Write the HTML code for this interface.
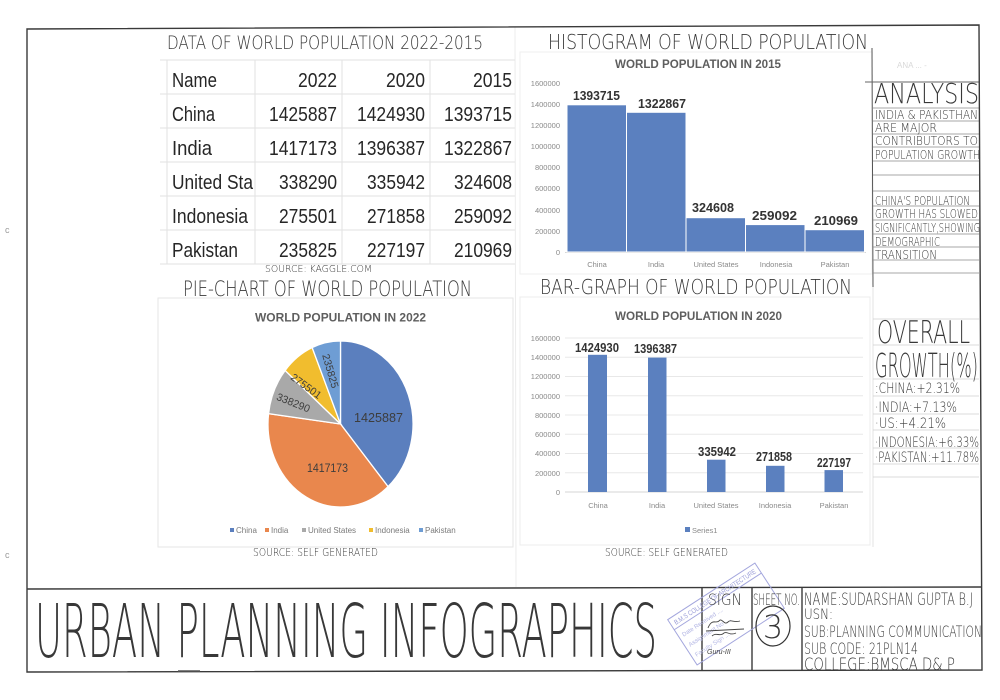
<!DOCTYPE html>
<html>
<head>
<meta charset="utf-8">
<style>
  html,body{margin:0;padding:0;background:#fff;}
  svg{display:block;}
  .hw{font-family:"DejaVu Sans","Liberation Sans",sans-serif;font-weight:200;fill:#383838;}
  .cal{font-family:"Liberation Sans",sans-serif;}
  .ax{font-family:"Liberation Sans",sans-serif;font-size:7.5px;fill:#8a8a8a;}
  .ttl{font-family:"Liberation Sans",sans-serif;font-weight:bold;font-size:12px;fill:#5e5e5e;}
  .dl{font-family:"Liberation Sans",sans-serif;font-weight:bold;font-size:13px;fill:#333;}
  .tb{font-family:"Liberation Sans",sans-serif;font-size:20px;fill:#262626;}
</style>
</head>
<body>
<svg width="1000" height="700" viewBox="0 0 1000 700" xmlns="http://www.w3.org/2000/svg">
  <rect width="1000" height="700" fill="#ffffff"/>

  <!-- margin marks -->
  <text x="5" y="233" class="cal" font-size="9" fill="#999">c</text>
  <text x="5" y="558" class="cal" font-size="9" fill="#999">c</text>

  <!-- page fold -->
  <line x1="515" y1="27" x2="516" y2="587" stroke="#ececec" stroke-width="1"/>

  <!-- ===== TABLE ===== -->
  <g stroke="#e2e2e2" stroke-width="1">
    <line x1="160" y1="60" x2="515" y2="60"/>
    <line x1="160" y1="94" x2="515" y2="94"/>
    <line x1="160" y1="128" x2="515" y2="128"/>
    <line x1="160" y1="162" x2="515" y2="162"/>
    <line x1="160" y1="196" x2="515" y2="196"/>
    <line x1="160" y1="230" x2="515" y2="230"/>
    <line x1="160" y1="264" x2="515" y2="264"/>
    <line x1="167" y1="60" x2="167" y2="264"/>
    <line x1="255" y1="60" x2="255" y2="264"/>
    <line x1="342" y1="60" x2="342" y2="264"/>
    <line x1="430" y1="60" x2="430" y2="264"/>
  </g>
  <text class="hw" x="167" y="49" font-size="19" textLength="316" lengthAdjust="spacingAndGlyphs">DATA OF WORLD POPULATION 2022-2015</text>

  <g class="tb">
    <text x="172" y="87" textLength="45" lengthAdjust="spacingAndGlyphs">Name</text>
    <text x="298" y="87" textLength="39" lengthAdjust="spacingAndGlyphs">2022</text>
    <text x="386" y="87" textLength="39" lengthAdjust="spacingAndGlyphs">2020</text>
    <text x="473" y="87" textLength="39" lengthAdjust="spacingAndGlyphs">2015</text>

    <text x="172" y="121" textLength="43" lengthAdjust="spacingAndGlyphs">China</text>
    <text x="269" y="121" textLength="68" lengthAdjust="spacingAndGlyphs">1425887</text>
    <text x="357" y="121" textLength="68" lengthAdjust="spacingAndGlyphs">1424930</text>
    <text x="444" y="121" textLength="68" lengthAdjust="spacingAndGlyphs">1393715</text>

    <text x="172" y="155" textLength="40" lengthAdjust="spacingAndGlyphs">India</text>
    <text x="269" y="155" textLength="68" lengthAdjust="spacingAndGlyphs">1417173</text>
    <text x="357" y="155" textLength="68" lengthAdjust="spacingAndGlyphs">1396387</text>
    <text x="444" y="155" textLength="68" lengthAdjust="spacingAndGlyphs">1322867</text>

    <text x="172" y="189" textLength="81" lengthAdjust="spacingAndGlyphs">United Sta</text>
    <text x="279" y="189" textLength="58" lengthAdjust="spacingAndGlyphs">338290</text>
    <text x="367" y="189" textLength="58" lengthAdjust="spacingAndGlyphs">335942</text>
    <text x="454" y="189" textLength="58" lengthAdjust="spacingAndGlyphs">324608</text>

    <text x="172" y="223" textLength="76" lengthAdjust="spacingAndGlyphs">Indonesia</text>
    <text x="279" y="223" textLength="58" lengthAdjust="spacingAndGlyphs">275501</text>
    <text x="367" y="223" textLength="58" lengthAdjust="spacingAndGlyphs">271858</text>
    <text x="454" y="223" textLength="58" lengthAdjust="spacingAndGlyphs">259092</text>

    <text x="172" y="257" textLength="66" lengthAdjust="spacingAndGlyphs">Pakistan</text>
    <text x="279" y="257" textLength="58" lengthAdjust="spacingAndGlyphs">235825</text>
    <text x="367" y="257" textLength="58" lengthAdjust="spacingAndGlyphs">227197</text>
    <text x="454" y="257" textLength="58" lengthAdjust="spacingAndGlyphs">210969</text>
  </g>
  <text class="hw" x="265" y="272" font-size="10" textLength="107" lengthAdjust="spacingAndGlyphs">SOURCE: KAGGLE.COM</text>

  <!-- ===== HISTOGRAM ===== -->
  <text class="hw" x="548" y="49" font-size="20" textLength="320" lengthAdjust="spacingAndGlyphs">HISTOGRAM OF WORLD POPULATION</text>
  <rect x="520" y="52" width="352" height="222" fill="none" stroke="#efefef"/>
  <text class="ttl" x="615" y="68" textLength="166" lengthAdjust="spacingAndGlyphs">WORLD POPULATION IN 2015</text>
  <g class="ax" text-anchor="end">
    <text x="560" y="86">1600000</text>
    <text x="560" y="107">1400000</text>
    <text x="560" y="128">1200000</text>
    <text x="560" y="149">1000000</text>
    <text x="560" y="170">800000</text>
    <text x="560" y="191">600000</text>
    <text x="560" y="213">400000</text>
    <text x="560" y="234">200000</text>
    <text x="560" y="255">0</text>
  </g>
  <line x1="565" y1="252.5" x2="866" y2="252.5" stroke="#d6d6d6"/>
  <g fill="#5b80bf" stroke="#ffffff" stroke-width="1">
    <rect x="567" y="104.8" width="59.5" height="147.2"/>
    <rect x="626.5" y="112.3" width="59.5" height="139.7"/>
    <rect x="686" y="217.7" width="59.5" height="34.3"/>
    <rect x="745.5" y="224.6" width="59.5" height="27.4"/>
    <rect x="805" y="229.7" width="59.5" height="22.3"/>
  </g>
  <g class="dl">
    <text x="573" y="100" textLength="47" lengthAdjust="spacingAndGlyphs">1393715</text>
    <text x="638" y="108" textLength="48" lengthAdjust="spacingAndGlyphs">1322867</text>
    <text x="692" y="212" textLength="42" lengthAdjust="spacingAndGlyphs">324608</text>
    <text x="752" y="220" textLength="45" lengthAdjust="spacingAndGlyphs">259092</text>
    <text x="814" y="225" textLength="44" lengthAdjust="spacingAndGlyphs">210969</text>
  </g>
  <g class="ax" text-anchor="middle">
    <text x="597" y="267">China</text>
    <text x="656" y="267">India</text>
    <text x="716" y="267">United States</text>
    <text x="776" y="267">Indonesia</text>
    <text x="835" y="267">Pakistan</text>
  </g>

  <!-- ===== ANALYSIS PANEL ===== -->
  <line x1="872" y1="48" x2="873" y2="287" stroke="#555" stroke-width="1"/>
  <line x1="873" y1="287" x2="873" y2="547" stroke="#e3e3e3" stroke-width="1"/>
  <line x1="865" y1="82" x2="979" y2="82" stroke="#666" stroke-width="1"/>
  <text x="897" y="68" class="cal" font-size="8" fill="#d8d8d8">ANA ... -</text>
  <text class="hw" x="874" y="103" font-size="28" textLength="105" lengthAdjust="spacingAndGlyphs">ANALYSIS</text>
  <g stroke="#8a8a8a" stroke-width="0.8">
    <line x1="873" y1="108" x2="979" y2="108"/>
    <line x1="873" y1="121" x2="979" y2="121"/>
    <line x1="873" y1="134" x2="979" y2="134"/>
    <line x1="873" y1="147" x2="979" y2="147"/>
    <line x1="873" y1="161" x2="979" y2="161"/>
    <line x1="873" y1="175" x2="979" y2="175"/>
    <line x1="873" y1="191" x2="979" y2="191"/>
    <line x1="873" y1="206" x2="979" y2="206"/>
    <line x1="873" y1="220" x2="979" y2="220"/>
    <line x1="873" y1="234" x2="979" y2="234"/>
    <line x1="873" y1="247" x2="979" y2="247"/>
    <line x1="873" y1="260" x2="979" y2="260"/>
    <line x1="873" y1="273" x2="979" y2="273"/>
  </g>
  <g class="hw" font-size="12.5">
    <text x="875" y="119" textLength="103" lengthAdjust="spacingAndGlyphs">INDIA &amp; PAKISTHAN</text>
    <text x="875" y="132" textLength="62" lengthAdjust="spacingAndGlyphs">ARE MAJOR</text>
    <text x="875" y="145" textLength="103" lengthAdjust="spacingAndGlyphs">CONTRIBUTORS TO</text>
    <text x="875" y="159" textLength="105" lengthAdjust="spacingAndGlyphs">POPULATION GROWTH</text>
    <text x="875" y="205" textLength="95" lengthAdjust="spacingAndGlyphs">CHINA'S POPULATION</text>
    <text x="875" y="218" textLength="103" lengthAdjust="spacingAndGlyphs">GROWTH HAS SLOWED</text>
    <text x="875" y="232" textLength="105" lengthAdjust="spacingAndGlyphs">SIGNIFICANTLY,SHOWING</text>
    <text x="875" y="246" textLength="65" lengthAdjust="spacingAndGlyphs">DEMOGRAPHIC</text>
    <text x="875" y="259" textLength="62" lengthAdjust="spacingAndGlyphs">TRANSITION</text>
  </g>

  <!-- overall growth -->
  <g stroke="#cfcfcf" stroke-width="0.8">
    <line x1="873" y1="319" x2="979" y2="319"/>
    <line x1="873" y1="345" x2="979" y2="345"/>
    <line x1="873" y1="379" x2="979" y2="379"/>
    <line x1="873" y1="396" x2="979" y2="396"/>
    <line x1="873" y1="414" x2="979" y2="414"/>
    <line x1="873" y1="430" x2="979" y2="430"/>
    <line x1="873" y1="448" x2="979" y2="448"/>
    <line x1="873" y1="464" x2="979" y2="464"/>
    <line x1="873" y1="477" x2="979" y2="477"/>
  </g>
  <text class="hw" x="877" y="343" font-size="31" textLength="93" lengthAdjust="spacingAndGlyphs">OVERALL</text>
  <text class="hw" x="875" y="377" font-size="33" textLength="103" lengthAdjust="spacingAndGlyphs">GROWTH(%)</text>
  <g class="hw" font-size="14">
    <text x="875" y="393" textLength="85" lengthAdjust="spacingAndGlyphs">:CHINA:+2.31%</text>
    <text x="875" y="412" textLength="82" lengthAdjust="spacingAndGlyphs">·INDIA:+7.13%</text>
    <text x="875" y="428" textLength="71" lengthAdjust="spacingAndGlyphs">·US:+4.21%</text>
    <text x="875" y="447" textLength="104" lengthAdjust="spacingAndGlyphs">·INDONESIA:+6.33%</text>
    <text x="875" y="462" textLength="104" lengthAdjust="spacingAndGlyphs">·PAKISTAN:+11.78%</text>
  </g>

  <!-- ===== PIE CHART ===== -->
  <text class="hw" x="183" y="296" font-size="21" textLength="289" lengthAdjust="spacingAndGlyphs">PIE-CHART OF WORLD POPULATION</text>
  <rect x="158" y="298" width="355" height="249" fill="none" stroke="#e6e6e6"/>
  <text class="ttl" x="255" y="321.5" textLength="171" lengthAdjust="spacingAndGlyphs">WORLD POPULATION IN 2022</text>
  <g stroke="#ffffff" stroke-width="1.3">
    <path d="M340.5,424 L340.5,341 A72.5,83 0 0 1 388.07,486.64 Z" fill="#5b7fbe"/>
    <path d="M340.5,424 L388.07,486.64 A72.5,83 0 0 1 268.57,413.64 Z" fill="#e9874d"/>
    <path d="M340.5,424 L268.57,413.64 A72.5,83 0 0 1 285.11,370.45 Z" fill="#a9a9a9"/>
    <path d="M340.5,424 L285.11,370.45 A72.5,83 0 0 1 312.18,347.59 Z" fill="#f1bd2e"/>
    <path d="M340.5,424 L312.18,347.59 A72.5,83 0 0 1 340.5,341 Z" fill="#6e9dd4"/>
  </g>
  <g class="cal" fill="#3d3d3d">
    <text x="354" y="422" font-size="13" textLength="49" lengthAdjust="spacingAndGlyphs">1425887</text>
    <text x="307" y="472" font-size="12" textLength="41" lengthAdjust="spacingAndGlyphs">1417173</text>
    <text font-size="10.5" text-anchor="middle" transform="translate(292,406) rotate(22)">338290</text>
    <text font-size="10.5" text-anchor="middle" transform="translate(304,389) rotate(36)">275501</text>
    <text font-size="10.5" text-anchor="middle" transform="translate(327,372) rotate(74)">235825</text>
  </g>
  <g class="cal" font-size="8" fill="#7a7a7a">
    <rect x="230" y="528" width="4" height="4" fill="#5b7fbe"/>
    <text x="236" y="533">China</text>
    <rect x="265" y="528" width="4" height="4" fill="#e9874d"/>
    <text x="271" y="533">India</text>
    <rect x="302" y="528" width="4" height="4" fill="#a9a9a9"/>
    <text x="308" y="533">United States</text>
    <rect x="369" y="528" width="4" height="4" fill="#f1bd2e"/>
    <text x="375" y="533">Indonesia</text>
    <rect x="419" y="528" width="4" height="4" fill="#6e9dd4"/>
    <text x="425" y="533">Pakistan</text>
  </g>
  <text class="hw" x="253" y="556" font-size="11" textLength="125" lengthAdjust="spacingAndGlyphs">SOURCE: SELF GENERATED</text>

  <!-- ===== BAR GRAPH ===== -->
  <text class="hw" x="540" y="294" font-size="20" textLength="312" lengthAdjust="spacingAndGlyphs">BAR-GRAPH OF WORLD POPULATION</text>
  <rect x="520" y="297" width="350" height="248" fill="none" stroke="#ececec"/>
  <text class="ttl" x="615" y="320" textLength="167" lengthAdjust="spacingAndGlyphs">WORLD POPULATION IN 2020</text>
  <g stroke="#e8e8e8" stroke-width="1">
    <line x1="565" y1="338" x2="863" y2="338"/>
    <line x1="565" y1="357.25" x2="863" y2="357.25"/>
    <line x1="565" y1="376.5" x2="863" y2="376.5"/>
    <line x1="565" y1="395.75" x2="863" y2="395.75"/>
    <line x1="565" y1="415" x2="863" y2="415"/>
    <line x1="565" y1="434.25" x2="863" y2="434.25"/>
    <line x1="565" y1="453.5" x2="863" y2="453.5"/>
    <line x1="565" y1="472.75" x2="863" y2="472.75"/>
  </g>
  <line x1="565" y1="492" x2="863" y2="492" stroke="#d4d4d4"/>
  <g class="ax" text-anchor="end">
    <text x="560" y="341">1600000</text>
    <text x="560" y="360">1400000</text>
    <text x="560" y="379">1200000</text>
    <text x="560" y="399">1000000</text>
    <text x="560" y="418">800000</text>
    <text x="560" y="437">600000</text>
    <text x="560" y="456">400000</text>
    <text x="560" y="476">200000</text>
    <text x="560" y="495">0</text>
  </g>
  <g fill="#5b80bf">
    <rect x="588" y="354.8" width="19" height="137.2"/>
    <rect x="648" y="357.6" width="18.5" height="134.4"/>
    <rect x="707" y="459.7" width="18.5" height="32.3"/>
    <rect x="766" y="465.8" width="18.5" height="26.2"/>
    <rect x="824.5" y="470.1" width="18.5" height="21.9"/>
  </g>
  <g class="dl" font-size="12.5">
    <text x="575" y="352" textLength="44" lengthAdjust="spacingAndGlyphs">1424930</text>
    <text x="634" y="353" textLength="43" lengthAdjust="spacingAndGlyphs">1396387</text>
    <text x="698" y="456" textLength="38" lengthAdjust="spacingAndGlyphs">335942</text>
    <text x="756" y="461" textLength="36" lengthAdjust="spacingAndGlyphs">271858</text>
    <text x="817" y="467" textLength="34" lengthAdjust="spacingAndGlyphs">227197</text>
  </g>
  <g class="ax" text-anchor="middle">
    <text x="598" y="508">China</text>
    <text x="657" y="508">India</text>
    <text x="716" y="508">United States</text>
    <text x="775" y="508">Indonesia</text>
    <text x="834" y="508">Pakistan</text>
  </g>
  <rect x="685" y="527" width="5" height="5" fill="#5b80bf"/>
  <text class="ax" x="692" y="533">Series1</text>
  <text class="hw" x="605" y="556" font-size="11" textLength="123" lengthAdjust="spacingAndGlyphs">SOURCE: SELF GENERATED</text>

  <!-- ===== OUTER BORDER & TITLE BLOCK ===== -->
  <g stroke="#3a3a3a" stroke-width="1.4" fill="none">
    <path d="M27,29 L979,25 L982,670 L27,672 Z"/>
    <line x1="27" y1="589" x2="982" y2="587"/>
    <line x1="702" y1="588" x2="702" y2="671"/>
    <line x1="752" y1="588" x2="752" y2="671"/>
    <line x1="802" y1="588" x2="802" y2="671"/>
  </g>
  <line x1="178" y1="671" x2="200" y2="671" stroke="#555" stroke-width="1.5"/>

  <text class="hw" x="35" y="657" font-size="74" textLength="622" lengthAdjust="spacingAndGlyphs" fill="#2f2f2f">URBAN PLANNING INFOGRAPHICS</text>

  <!-- stamp -->
  <g transform="translate(726,614) rotate(-33)" fill="none" stroke="#a3a6dd" stroke-width="1">
    <rect x="-52" y="-27" width="104" height="54"/>
    <line x1="-52" y1="-15" x2="52" y2="-15"/>
    <text x="-48" y="-18" font-size="7" fill="#9a9dd8" stroke="none" class="cal" textLength="96" lengthAdjust="spacingAndGlyphs">B.M.S COLLEGE OF ARCHITECTURE</text>
    <text x="-48" y="-4" font-size="6" fill="#b0b3e3" stroke="none" class="cal">Date Received ....</text>
    <text x="-48" y="8" font-size="6" fill="#b0b3e3" stroke="none" class="cal">Assignment No ....</text>
    <text x="-48" y="20" font-size="6" fill="#b8bbe6" stroke="none" class="cal">Faculty Sign ....</text>
  </g>

  <text class="hw" x="708" y="605" font-size="16" textLength="34" lengthAdjust="spacingAndGlyphs">SIGN</text>
  <!-- signature -->
  <g fill="none" stroke="#444" stroke-width="0.9">
    <path d="M708,628 C712,618 716,624 719,621 C722,617 724,626 728,622 C731,619 734,623 740,621"/>
    <path d="M706,631 L744,629"/>
    <path d="M712,636 C716,632 720,637 724,633 C727,631 730,636 736,633"/>
  </g>
  <text x="707" y="654" class="cal" font-size="7" fill="#444" font-style="italic">Guru-III</text>

  <text class="hw" x="753" y="605" font-size="16" textLength="47" lengthAdjust="spacingAndGlyphs">SHEET NO.</text>
  <ellipse cx="773" cy="626" rx="17" ry="20" fill="none" stroke="#333" stroke-width="1.2"/>
  <text class="hw" x="773" y="638" font-size="32" text-anchor="middle">3</text>

  <g class="hw">
    <text x="804" y="605" font-size="17" textLength="169" lengthAdjust="spacingAndGlyphs">NAME:SUDARSHAN GUPTA B.J</text>
    <text x="804" y="619" font-size="14" textLength="29" lengthAdjust="spacingAndGlyphs">USN:</text>
    <text x="804" y="637" font-size="16" textLength="178" lengthAdjust="spacingAndGlyphs">SUB:PLANNING COMMUNICATION</text>
    <text x="804" y="654" font-size="16" textLength="114" lengthAdjust="spacingAndGlyphs">SUB CODE: 21PLN14</text>
    <text x="804" y="670" font-size="17" textLength="151" lengthAdjust="spacingAndGlyphs">COLLEGE:BMSCA D&amp; P</text>
  </g>
</svg>
</body>
</html>
